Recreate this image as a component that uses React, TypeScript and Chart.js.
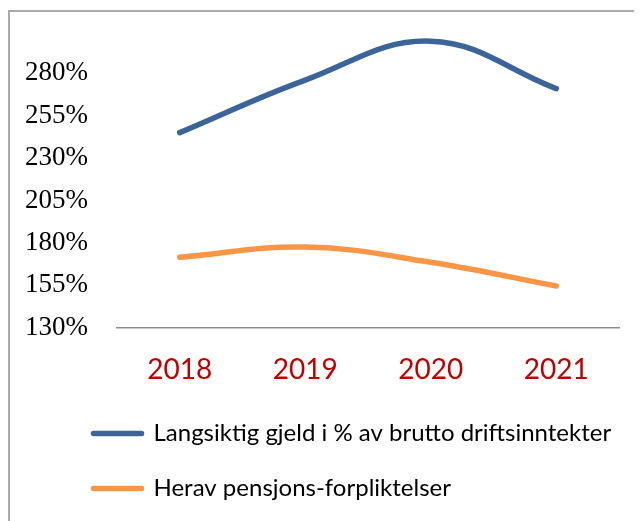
import React, { useEffect, useRef } from "react";
import { Chart, registerables } from "chart.js";

Chart.register(...registerables);

const categories = ["2018", "2019", "2020", "2021"];
const gjeldValues = [245, 276, 299, 271];
const pensjonValues = [171.5, 177.5, 168.5, 154.5];
const seriesNames = [
  "Langsiktig gjeld i % av brutto driftsinntekter",
  "Herav pensjons-forpliktelser",
];
const seriesColors = ["#3B6498", "#F79646"];
const yMin = 130;
const yMax = 305;
const yStep = 25;
const yLastLabel = 280;

const legendShift = {
  id: "legendShift",
  afterLayout(chart: any) {
    if (chart.legend) chart.legend.left = 54.5;
  },
};

export default function App() {
  const canvasRef = useRef<HTMLCanvasElement | null>(null);

  useEffect(() => {
    const canvas = canvasRef.current;
    if (!canvas) return;
    const chart = new Chart(canvas, {
      type: "line",
      data: {
        labels: categories,
        datasets: [
          {
            label: seriesNames[0],
            data: gjeldValues,
            borderColor: seriesColors[0],
            backgroundColor: seriesColors[0],
            borderWidth: 5.5,
            borderCapStyle: "round",
            borderJoinStyle: "round",
            tension: 0.4,
            pointRadius: 0,
            fill: false,
          },
          {
            label: seriesNames[1],
            data: pensjonValues,
            borderColor: seriesColors[1],
            backgroundColor: seriesColors[1],
            borderWidth: 5.5,
            borderCapStyle: "round",
            borderJoinStyle: "round",
            tension: 0.4,
            pointRadius: 0,
            fill: false,
          },
        ],
      },
      plugins: [legendShift],
      options: {
        animation: false,
        responsive: false,
        devicePixelRatio: 1,
        layout: { padding: { left: 17, right: 23, top: 23, bottom: 10.5 } },
        plugins: {
          tooltip: { enabled: false },
          legend: {
            position: "bottom",
            align: "start",
            labels: {
              usePointStyle: true,
              pointStyleWidth: 48,
              boxHeight: 5,
              padding: 31,
              color: "#000000",
              font: { family: "Lato", size: 24 },
              generateLabels: (c: any) =>
                c.data.datasets.map((ds: any, i: number) => ({
                  text: ds.label,
                  fillStyle: ds.borderColor,
                  strokeStyle: ds.borderColor,
                  lineWidth: 5.5,
                  lineCap: "round",
                  pointStyle: "line",
                  hidden: false,
                  datasetIndex: i,
                  fontColor: "#000000",
                })),
            },
          },
        },
        scales: {
          x: {
            type: "category",
            offset: true,
            grid: { display: false, drawTicks: false, tickLength: 0 },
            border: { display: true, color: "#8c8c8c", width: 1.5 },
            ticks: {
              color: "#C00000",
              font: { family: "Lato", size: 28 },
              padding: 26,
              maxRotation: 0,
            },
            afterFit: (s: any) => {
              s.height = 63;
            },
          },
          y: {
            min: yMin,
            max: yMax,
            grid: { display: false, drawTicks: false, tickLength: 0 },
            border: { display: false },
            ticks: {
              stepSize: yStep,
              padding: 0,
              crossAlign: "far",
              color: "#000000",
              font: { family: "Liberation Serif", size: 27 },
              callback: (v: any) => (Number(v) > yLastLabel ? "" : `${v}%`),
            },
            afterFit: (s: any) => {
              s.width = 92;
            },
          },
        },
      },
    });
    return () => chart.destroy();
  }, []);

  return (
    <div style={{ position: "relative", width: 634, height: 513, overflow: "hidden" }}>
      <div
        style={{
          position: "absolute",
          left: 0,
          top: 2,
          width: 660,
          height: 540,
          borderLeft: "2px solid #a9a9a9",
          borderTop: "2px solid #a9a9a9",
        }}
      />
      <canvas
        ref={canvasRef}
        width={634}
        height={513}
        style={{ position: "absolute", left: 0, top: 0, width: 634, height: 513 }}
      />
    </div>
  );
}
